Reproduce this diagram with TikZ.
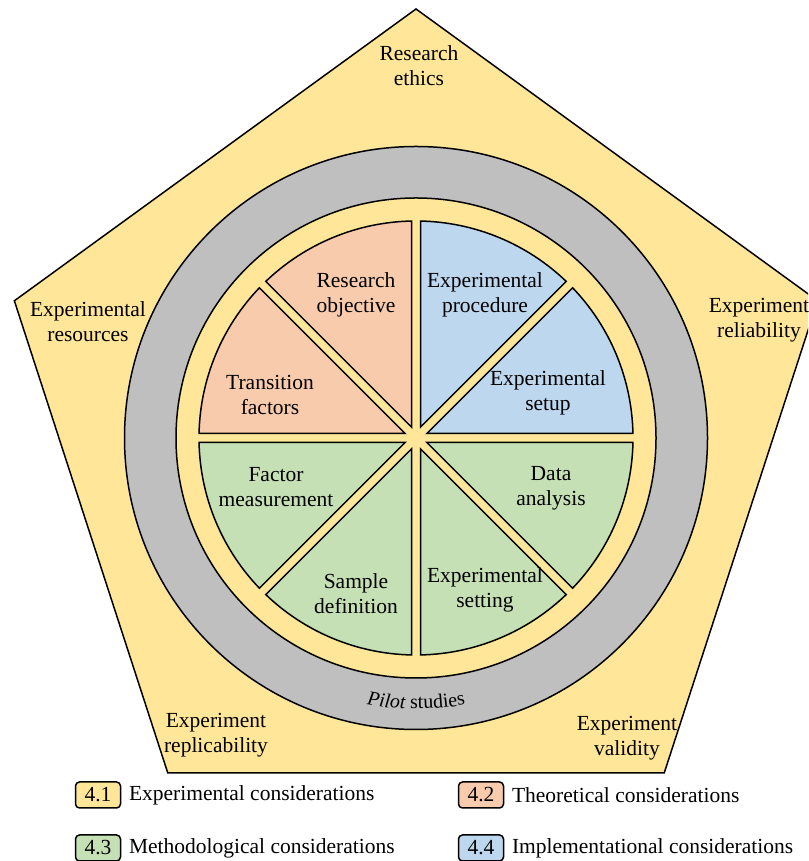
\documentclass[tikz,border=0pt]{standalone}
\usepackage{fontspec}
\setmainfont{Liberation Serif}
\usetikzlibrary{calc,positioning,decorations.text}

\definecolor{expfill}{HTML}{FFE699}
\definecolor{theofill}{HTML}{F8CBAD}
\definecolor{methfill}{HTML}{C5E0B4}
\definecolor{implfill}{HTML}{BDD7EE}
\definecolor{pilotfill}{HTML}{BFBFBF}

\newcommand{\lblfont}{\fontsize{10.75}{12.5}\selectfont}

\tikzset{
  lbl/.style={align=center, font=\lblfont, inner sep=1pt},
  legbox/.style={draw, rounded corners=2pt, minimum width=22.5pt, minimum height=13pt, inner sep=0pt, font=\lblfont},
  legtext/.style={font=\lblfont, inner sep=3.5pt}
}

\begin{document}
\begin{tikzpicture}[x=0.5pt,y=0.5pt,line width=0.75pt]
    \useasboundingbox (0,0) rectangle (808,861);
    \clip (0,0) rectangle (808,861);

    \coordinate (C) at (416,423);

    % pentagon
    \draw[fill=expfill,shift={(416,429.7)}] (90:422.3) -- (162:422.3) -- (234:422.3) -- (306:422.3) -- (18:422.3) -- cycle;

    % rings
    \draw[fill=pilotfill] (C) circle[radius=291.5];
    \draw[fill=expfill] (C) circle[radius=240];

    % sectors
    \foreach \a/\c in {0/implfill,45/implfill,90/theofill,135/theofill,180/methfill,225/methfill,270/methfill,315/methfill}
      \draw[fill=\c] (C) ++(\a+22.5:11.76) -- ($(C)+(\a+1.19:217)$) arc[start angle=\a+1.19, end angle=\a+43.81, radius=217] -- cycle;

    \path[decorate, decoration={text along path, text align=center,
      text={|\fontsize{10}{12}\selectfont\itshape|Pilot|\fontsize{10}{12}\selectfont\upshape|{ }studies}}]
      (C) ++(240:271) arc[start angle=240, end angle=300, radius=271];

    % outer labels
    \node[lbl] (ethics) at (419,795) {Research\\ethics};
    \node[lbl] (resources) at (88,539) {Experimental\\resources};
    \node[lbl] (reliab) at (759,541) {Experiment\\reliability};
    \node[lbl] (replic) at (216,126) {Experiment\\replicability};
    \node[lbl] (valid) at (627,123) {Experiment\\validity};

    % pie labels
    \node[lbl] (resobj) at (356,566) {Research\\objective};
    \node[lbl] (transfac) at (270,466) {Transition\\factors};
    \node[lbl] (expproc) at (485,566) {Experimental\\procedure};
    \node[lbl] (expsetup) at (548,468) {Experimental\\setup};
    \node[lbl] (factmeas) at (276,374) {Factor\\measurement};
    \node[lbl] (datana) at (551,373) {Data\\analysis};
    \node[lbl] (sampdef) at (356,267) {Sample\\definition};
    \node[lbl] (expsetting) at (485,271) {Experimental\\setting};

    % legend
    \node[legbox, fill=expfill] (l41) at (98,66) {4.1};
    \node[legtext, right=0pt of l41] (t41) {Experimental considerations};
    \node[legbox, fill=theofill] (l42) at (481,66) {4.2};
    \node[legtext, right=0pt of l42] (t42) {Theoretical considerations};
    \node[legbox, fill=methfill] (l43) at (98,13) {4.3};
    \node[legtext, right=0pt of l43] (t43) {Methodological considerations};
    \node[legbox, fill=implfill] (l44) at (481,13) {4.4};
    \node[legtext, right=0pt of l44] (t44) {Implementational considerations};
\end{tikzpicture}
\end{document}
